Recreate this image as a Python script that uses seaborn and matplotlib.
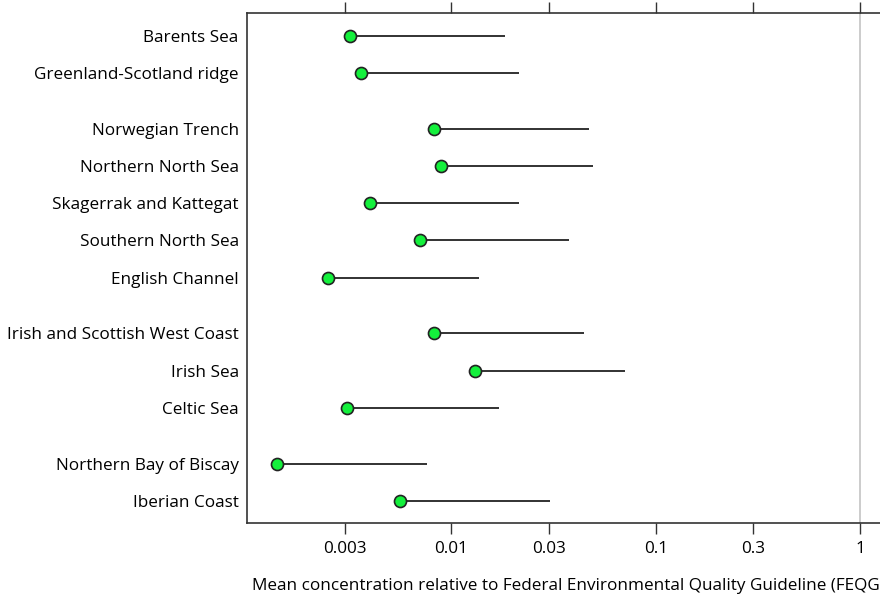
import numpy as np
import pandas as pd
import matplotlib
matplotlib.use("Agg")
import matplotlib.pyplot as plt
import seaborn as sns

# --- DATA ---
regions = [
    "Barents Sea", "Greenland-Scotland ridge",
    "Norwegian Trench", "Northern North Sea", "Skagerrak and Kattegat",
    "Southern North Sea", "English Channel",
    "Irish and Scottish West Coast", "Irish Sea", "Celtic Sea",
    "Northern Bay of Biscay", "Iberian Coast",
]
group = [1, 1, 2, 2, 2, 2, 2, 3, 3, 3, 4, 4]
mean_conc = [0.0032, 0.0036, 0.0082, 0.0089, 0.0040, 0.0070, 0.0025,
             0.0082, 0.0131, 0.0031, 0.0014, 0.0056]
upper_conc = [0.0183, 0.0215, 0.0471, 0.0493, 0.0215, 0.0377, 0.0136,
              0.0445, 0.0706, 0.0170, 0.0076, 0.0304]
tick_vals = [0.003, 0.01, 0.03, 0.1, 0.3, 1]
tick_labels = ["0.003", "0.01", "0.03", "0.1", "0.3", "1"]

# row positions: one unit per region, half a unit extra between groups
ypos = []
y = 0.0
for i, g in enumerate(group):
    if i > 0:
        y += 1.0 + (0.5 if g != group[i - 1] else 0.0)
    ypos.append(y)

df = pd.DataFrame({"region": regions, "mean": mean_conc,
                   "upper": upper_conc, "y": ypos})

sns.set_style("white")
plt.rcParams['font.family'] = ['Open Sans', 'DejaVu Sans']
FS = 12.3

fig = plt.figure(figsize=(8.8, 5.96), dpi=100)
ax = fig.add_axes([247 / 880, 1 - 523 / 596, 642 / 880, 510 / 596])

ax.axvline(1, color="#c4c4c4", lw=1.2, zorder=0)
ax.hlines(df["y"], df["mean"], df["upper"], color="#222222", lw=1.3, zorder=2)
sns.scatterplot(data=df, x="mean", y="y", ax=ax, s=75, color="#14f03c",
                edgecolor="#222222", linewidth=1.2, zorder=3, legend=False)

ax.set_xscale("log")
ax.set_xlim(0.001, 1.38)
ax.set_ylim(df["y"].max() + 0.6, -0.62)
ax.set_xticks(tick_vals)
ax.set_xticklabels(tick_labels, fontsize=FS, color="black")
ax.minorticks_off()
ax.set_yticks(df["y"])
ax.set_yticklabels(df["region"], fontsize=FS, color="black")
ax.tick_params(axis="y", length=0, pad=6)
ax.tick_params(axis="x", which="major", direction="out", length=8, width=1,
               color="#333333", top=True, bottom=True, pad=5)
for side in ["left", "top", "bottom", "right"]:
    ax.spines[side].set_color("#333333")
    ax.spines[side].set_linewidth(1.2)
ax.set_xlabel("Mean concentration relative to Federal Environmental Quality Guideline (FEQG)",
              fontsize=FS, labelpad=15, color="black")
ax.set_ylabel("")

fig.savefig("out.png", dpi=100)
